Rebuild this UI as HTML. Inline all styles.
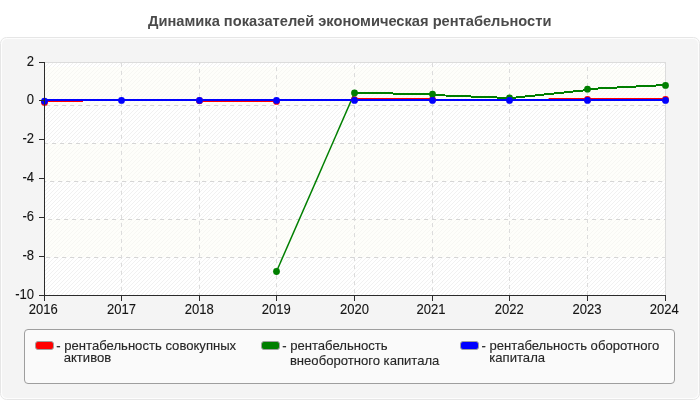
<!DOCTYPE html>
<html lang="ru"><head><meta charset="utf-8"><title>Динамика показателей экономическая рентабельности</title>
<style>html,body{margin:0;padding:0;background:#fff;}body{width:700px;height:400px;overflow:hidden;}svg{display:block;}text{font-family:"Liberation Sans",Arial,sans-serif;}#wrap{width:700px;height:400px;will-change:transform;}</style></head><body><div id="wrap">
<svg width="700" height="400" viewBox="0 0 700 400">
<defs>
<pattern id="hatch" x="46" y="62" width="4" height="4" patternUnits="userSpaceOnUse"><path d="M-1,5 L5,-1 M-1,1 L1,-1 M3,5 L5,3" stroke="#f1f1f1" stroke-width="1" fill="none" shape-rendering="crispEdges"/></pattern>
</defs>
<rect width="700" height="400" fill="#ffffff"/>
<rect x="0.5" y="37.5" width="699" height="362" rx="6" ry="6" fill="#fdfdfd" stroke="#e6e6e6"/>
<rect x="2" y="39" width="696" height="359" rx="5" ry="5" fill="#f4f4f4"/>
<text x="349.7" y="26" text-anchor="middle" font-size="14.67" font-weight="bold" fill="#4a4a4a" textLength="403.4" lengthAdjust="spacingAndGlyphs">Динамика показателей экономическая рентабельности</text>
<rect x="44.5" y="62.5" width="621" height="233" fill="#ffffff" stroke="#dcdcdc"/>
<rect x="45" y="63" width="620" height="232" fill="url(#hatch)"/>
<rect x="45" y="67" width="620" height="38" fill="rgb(252,252,245)" fill-opacity="0.47"/>
<rect x="45" y="143" width="620" height="38" fill="rgb(252,252,245)" fill-opacity="0.47"/>
<rect x="45" y="219" width="620" height="38" fill="rgb(252,252,245)" fill-opacity="0.47"/>
<line x1="45" y1="105.5" x2="665" y2="105.5" stroke="#d6d6d6" stroke-dasharray="4 4" stroke-dashoffset="7"/>
<line x1="45" y1="143.5" x2="665" y2="143.5" stroke="#d6d6d6" stroke-dasharray="4 4" stroke-dashoffset="1"/>
<line x1="45" y1="181.5" x2="665" y2="181.5" stroke="#d6d6d6" stroke-dasharray="4 4" stroke-dashoffset="3"/>
<line x1="45" y1="219.5" x2="665" y2="219.5" stroke="#d6d6d6" stroke-dasharray="4 4" stroke-dashoffset="5"/>
<line x1="45" y1="257.5" x2="665" y2="257.5" stroke="#d6d6d6" stroke-dasharray="4 4" stroke-dashoffset="7"/>
<line x1="121.5" y1="63" x2="121.5" y2="295" stroke="#dcdcdc" stroke-dasharray="4 4" stroke-dashoffset="0"/>
<line x1="199.5" y1="63" x2="199.5" y2="295" stroke="#dcdcdc" stroke-dasharray="4 4" stroke-dashoffset="2"/>
<line x1="276.5" y1="63" x2="276.5" y2="295" stroke="#dcdcdc" stroke-dasharray="4 4" stroke-dashoffset="4"/>
<line x1="354.5" y1="63" x2="354.5" y2="295" stroke="#dcdcdc" stroke-dasharray="4 4" stroke-dashoffset="6"/>
<line x1="432.5" y1="63" x2="432.5" y2="295" stroke="#dcdcdc" stroke-dasharray="4 4" stroke-dashoffset="0"/>
<line x1="509.5" y1="63" x2="509.5" y2="295" stroke="#dcdcdc" stroke-dasharray="4 4" stroke-dashoffset="2"/>
<line x1="587.5" y1="63" x2="587.5" y2="295" stroke="#dcdcdc" stroke-dasharray="4 4" stroke-dashoffset="4"/>
<g font-size="14" fill="#141414" stroke="#141414" stroke-width="0.1">
<text transform="translate(34,66) scale(0.933,1)" text-anchor="end">2</text>
<text transform="translate(34,104) scale(0.933,1)" text-anchor="end">0</text>
<text transform="translate(34,143) scale(0.933,1)" text-anchor="end">-2</text>
<text transform="translate(34,182) scale(0.933,1)" text-anchor="end">-4</text>
<text transform="translate(34,221) scale(0.933,1)" text-anchor="end">-6</text>
<text transform="translate(34,260) scale(0.933,1)" text-anchor="end">-8</text>
<text transform="translate(34,299) scale(0.933,1)" text-anchor="end">-10</text>
<text transform="translate(43.2,314) scale(0.933,1)" text-anchor="middle">2016</text>
<text transform="translate(121.6,314) scale(0.933,1)" text-anchor="middle">2017</text>
<text transform="translate(199.3,314) scale(0.933,1)" text-anchor="middle">2018</text>
<text transform="translate(276.2,314) scale(0.933,1)" text-anchor="middle">2019</text>
<text transform="translate(354.4,314) scale(0.933,1)" text-anchor="middle">2020</text>
<text transform="translate(431.0,314) scale(0.933,1)" text-anchor="middle">2021</text>
<text transform="translate(509.2,314) scale(0.933,1)" text-anchor="middle">2022</text>
<text transform="translate(587.1,314) scale(0.933,1)" text-anchor="middle">2023</text>
<text transform="translate(664.2,314) scale(0.933,1)" text-anchor="middle">2024</text>
</g>
<g fill="none" stroke-width="2" stroke-linejoin="round">
<path stroke="#ff0000" d="M44,101 H83 M83,100 H199 M199,101 H277 M277,100 H354.5 M354.5,99 H432 M432,100 H548.6 M548.6,99 H665"/>
<polyline stroke="#007f00" stroke-width="1.5" points="276.5,271.5 354.5,93"/>
<path stroke="#007f00" shape-rendering="crispEdges" d="M354.5,92.55 L432.5,94.48 M432.5,95.0 L509.5,98.0 M509.5,98.17 L587.5,90.0 M587.5,89.04 L665.5,85.0"/>
<polyline stroke="#0000ff" points="44.5,100 121.5,100 199.5,100 276.5,100 354.5,100 432.5,100 509.5,100 587.5,100 665.5,100"/>
</g>
<circle cx="44.5" cy="102.4" r="3.4" fill="#ff0000"/>
<circle cx="199.5" cy="100.7" r="3.4" fill="#ff0000"/>
<circle cx="276.5" cy="101.4" r="3.4" fill="#ff0000"/>
<circle cx="354.5" cy="99.6" r="3.4" fill="#ff0000"/>
<circle cx="432.5" cy="99.6" r="3.4" fill="#ff0000"/>
<circle cx="587.5" cy="99.4" r="3.4" fill="#ff0000"/>
<circle cx="665.5" cy="99.4" r="3.4" fill="#ff0000"/>
<circle cx="276.5" cy="271.5" r="3.4" fill="#007f00"/>
<circle cx="354.5" cy="93" r="3.4" fill="#007f00"/>
<circle cx="432.5" cy="94.2" r="3.4" fill="#007f00"/>
<circle cx="509.5" cy="97.8" r="3.4" fill="#007f00"/>
<circle cx="587.5" cy="89.2" r="3.4" fill="#007f00"/>
<circle cx="665.5" cy="85.4" r="3.4" fill="#007f00"/>
<circle cx="44.5" cy="101.2" r="3.4" fill="#0000ff"/>
<circle cx="121.5" cy="100.4" r="3.4" fill="#0000ff"/>
<circle cx="199.5" cy="100.4" r="3.4" fill="#0000ff"/>
<circle cx="276.5" cy="100.4" r="3.4" fill="#0000ff"/>
<circle cx="354.5" cy="100.4" r="3.4" fill="#0000ff"/>
<circle cx="432.5" cy="100.4" r="3.4" fill="#0000ff"/>
<circle cx="509.5" cy="100.4" r="3.4" fill="#0000ff"/>
<circle cx="587.5" cy="100.4" r="3.4" fill="#0000ff"/>
<circle cx="665.5" cy="100.4" r="3.4" fill="#0000ff"/>
<g stroke="#2b2b2b" stroke-width="1" shape-rendering="crispEdges">
<line x1="44.5" y1="62" x2="44.5" y2="296"/>
<line x1="44" y1="295.5" x2="666" y2="295.5"/>
<line x1="39" y1="62.5" x2="44" y2="62.5"/>
<line x1="39" y1="100.5" x2="44" y2="100.5"/>
<line x1="39" y1="139.5" x2="44" y2="139.5"/>
<line x1="39" y1="178.5" x2="44" y2="178.5"/>
<line x1="39" y1="217.5" x2="44" y2="217.5"/>
<line x1="39" y1="256.5" x2="44" y2="256.5"/>
<line x1="39" y1="295.5" x2="44" y2="295.5"/>
<line x1="44.5" y1="295" x2="44.5" y2="301"/>
<line x1="121.5" y1="295" x2="121.5" y2="301"/>
<line x1="199.5" y1="295" x2="199.5" y2="301"/>
<line x1="276.5" y1="295" x2="276.5" y2="301"/>
<line x1="354.5" y1="295" x2="354.5" y2="301"/>
<line x1="432.5" y1="295" x2="432.5" y2="301"/>
<line x1="509.5" y1="295" x2="509.5" y2="301"/>
<line x1="587.5" y1="295" x2="587.5" y2="301"/>
<line x1="665.5" y1="295" x2="665.5" y2="301"/>
</g>
<rect x="24.5" y="329.5" width="650" height="54" rx="3.5" ry="3.5" fill="#fafafa" stroke="#9e9e9e"/>
<rect x="35.5" y="341.5" width="18" height="8" rx="2.5" ry="2.5" fill="#ff0000" stroke="#a0a0a0"/>
<rect x="261.5" y="341.5" width="18" height="8" rx="2.5" ry="2.5" fill="#007f00" stroke="#a0a0a0"/>
<rect x="460.5" y="341.5" width="18" height="8" rx="2.5" ry="2.5" fill="#0000ff" stroke="#a0a0a0"/>
<g font-size="13.1" fill="#262626" stroke="#262626" stroke-width="0.12">
<text x="56.3" y="350">- рентабельность совокупных</text>
<text x="63.7" y="361.7">активов</text>
<text x="282.2" y="350">- рентабельность</text>
<text x="289.9" y="365.4">внеоборотного капитала</text>
<text x="481.5" y="350">- рентабельность оборотного</text>
<text x="489.3" y="361.7">капитала</text>
</g>
</svg></div></body></html>
